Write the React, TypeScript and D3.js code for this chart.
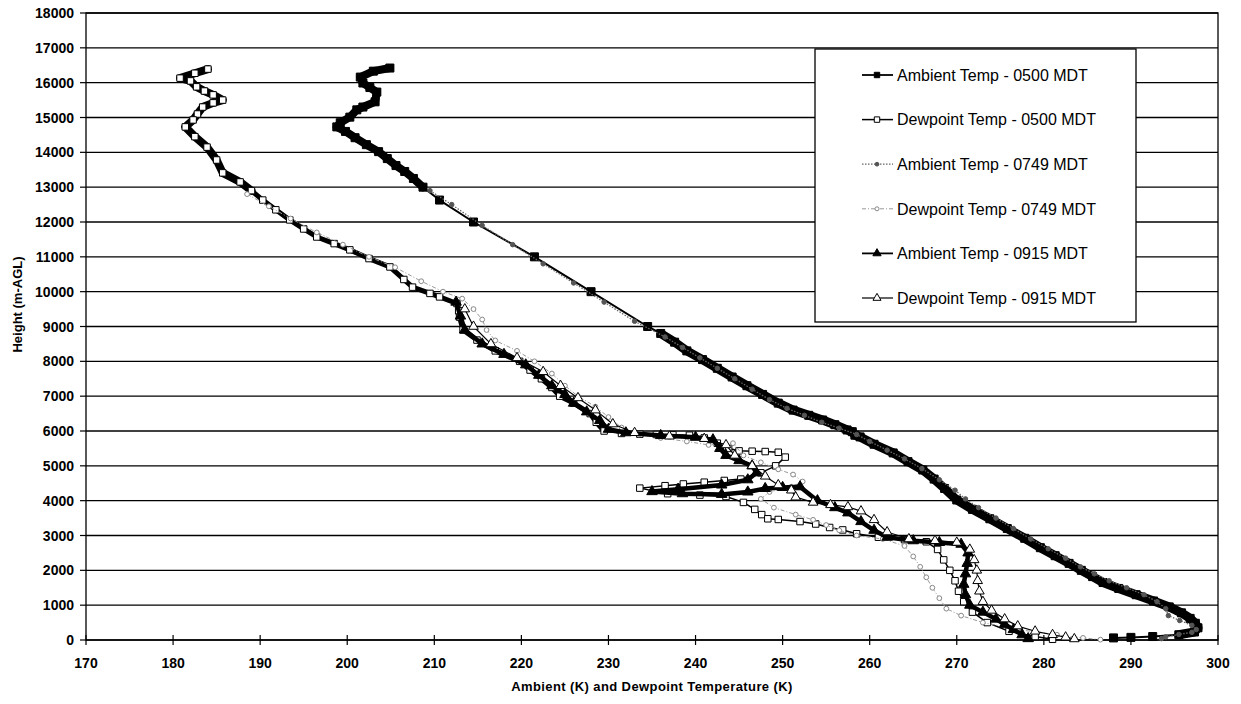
import React from 'react';
import * as d3 from 'd3';

type P = [number, number]; // [temperature K, height m-AGL]

const X_TICKS = [170, 180, 190, 200, 210, 220, 230, 240, 250, 260, 270, 280, 290, 300];
const Y_TICKS = [0, 1000, 2000, 3000, 4000, 5000, 6000, 7000, 8000, 9000, 10000, 11000, 12000, 13000, 14000, 15000, 16000, 17000, 18000];

const ambient0500: P[] = [
  [204.9, 16420], [203.0, 16330], [201.5, 16160], [201.8, 15990], [202.6, 15860], [203.4, 15730], [203.2, 15450],
  [201.8, 15300], [201.1, 15220], [200.3, 15010], [199.2, 14850], [198.8, 14730], [199.8, 14600], [200.9, 14420],
  [202.2, 14220], [203.6, 14020], [204.6, 13820], [205.6, 13620], [206.6, 13450], [207.6, 13250], [208.7, 13000],
  [210.6, 12630], [214.5, 12000], [221.5, 11000], [228.0, 10000], [234.5, 9000],
  [236.0, 8800], [237.6, 8550], [239.0, 8300], [240.8, 8050], [242.5, 7800], [244.2, 7550], [245.9, 7300],
  [247.7, 7050], [249.5, 6800], [251.2, 6600], [253.0, 6450], [254.6, 6316], [256.0, 6180], [257.4, 6030],
  [258.0, 5980], [258.3, 5880], [258.9, 5830], [260.5, 5620], [262.7, 5370], [264.4, 5120], [266.1, 4880],
  [267.4, 4620], [268.6, 4350], [270.0, 4020], [271.8, 3750], [273.8, 3480], [275.8, 3200], [277.8, 2920],
  [279.6, 2650], [281.3, 2420], [282.9, 2200], [284.3, 2000], [285.6, 1820], [286.8, 1650], [288.6, 1480],
  [290.6, 1300], [292.6, 1120], [294.4, 950], [295.8, 780], [296.8, 620], [297.4, 480], [297.7, 350],
  [297.3, 230], [295.5, 150], [292.5, 100], [290.0, 75], [288.0, 60],
];

const dewpoint0500: P[] = [
  [184.0, 16390], [182.5, 16270], [180.8, 16130], [182.0, 16050], [182.7, 15880], [183.6, 15760], [184.6, 15650],
  [185.7, 15500], [184.6, 15420], [183.4, 15300], [182.8, 15100], [182.3, 14930], [181.4, 14730], [182.5, 14450],
  [183.9, 14150], [185.0, 13780], [185.7, 13410], [187.7, 13150], [189.0, 12900], [190.3, 12630], [191.8, 12350],
  [193.4, 12060], [195.0, 11800], [196.5, 11570], [198.5, 11380], [200.3, 11200], [202.5, 10950], [204.9, 10710],
  [206.5, 10350], [207.5, 10130], [209.5, 9950], [210.6, 9850], [212.6, 9660], [212.8, 9450], [212.9, 9270],
  [213.3, 8900], [214.9, 8610], [217.0, 8300], [219.8, 8000], [221.0, 7750], [222.3, 7500], [223.5, 7250],
  [224.4, 7000], [226.0, 6800], [227.9, 6500], [228.6, 6250], [229.5, 6000], [231.5, 5930], [233.6, 5910],
  [235.5, 5900], [237.4, 5890], [239.3, 5880], [241.0, 5800], [242.5, 5650], [243.8, 5500], [245.0, 5430],
  [246.5, 5420], [248.0, 5410], [249.5, 5390], [250.3, 5250], [249.2, 5000], [247.5, 4800], [245.2, 4620],
  [243.3, 4580], [241.0, 4530], [238.6, 4480], [236.5, 4430], [233.6, 4360], [236.8, 4200], [240.5, 4160],
  [243.5, 4120], [245.5, 3950], [246.8, 3750], [247.6, 3600], [248.3, 3480], [249.5, 3460], [252.0, 3400],
  [253.8, 3330], [255.4, 3230], [256.9, 3160], [258.5, 3050], [261.0, 2950], [264.0, 2880], [266.5, 2820],
  [267.8, 2600], [268.5, 2300], [269.2, 2000], [269.8, 1700], [270.2, 1400], [270.8, 1100], [271.8, 800],
  [273.5, 500], [276.0, 250], [279.0, 100], [281.0, 20],
];

const ambient0749: P[] = [
  [209.5, 12900], [212.0, 12500], [215.5, 11900], [219.0, 11350], [222.5, 10800], [226.0, 10250], [229.5, 9700],
  [233.0, 9150], [236.5, 8700], [238.5, 8400], [240.5, 8100], [242.5, 7800], [244.5, 7500], [246.5, 7200],
  [248.5, 6900], [250.5, 6650], [252.5, 6450], [254.5, 6250], [256.5, 6080], [258.5, 5900], [260.0, 5700],
  [262.0, 5450], [264.0, 5200], [266.0, 4920], [268.0, 4600], [269.8, 4300], [271.0, 4050], [272.5, 3800],
  [274.5, 3500], [276.5, 3200], [278.5, 2900], [280.5, 2620], [282.5, 2350], [284.2, 2100], [285.8, 1900],
  [287.5, 1700], [289.5, 1500], [291.5, 1300], [293.0, 1100], [294.0, 900], [294.3, 700], [295.6, 560],
  [297.0, 420], [297.5, 300], [297.0, 220], [295.5, 160], [294.0, 90], [293.5, 40],
];

const dewpoint0749: P[] = [
  [188.5, 12800], [191.0, 12450], [193.5, 12100], [196.5, 11700], [199.5, 11350], [202.5, 11000], [205.5, 10700],
  [208.5, 10300], [211.0, 10000], [213.2, 9800], [214.5, 9500], [215.5, 9200], [216.0, 8900], [217.0, 8600],
  [219.5, 8300], [221.5, 8000], [223.5, 7650], [225.0, 7300], [226.5, 7000], [228.5, 6700], [230.0, 6400],
  [231.5, 6100], [233.5, 5900], [236.0, 5800], [239.0, 5700], [241.5, 5600], [244.3, 5650], [245.5, 5300],
  [247.5, 5100], [249.5, 4900], [251.2, 4750], [252.3, 4550], [251.0, 4400], [248.5, 4250], [247.5, 4050],
  [249.0, 3800], [251.5, 3600], [253.5, 3450], [255.0, 3300], [256.5, 3150], [258.5, 3000], [261.5, 2900],
  [264.0, 2700], [265.0, 2400], [265.8, 2100], [266.5, 1800], [267.2, 1500], [268.0, 1200], [268.8, 900],
  [270.5, 700], [273.0, 500], [277.0, 300], [281.5, 150], [284.5, 60], [286.5, 10],
];

const ambient0915: P[] = [
  [212.5, 9700], [213.0, 9300], [213.5, 8900], [215.5, 8500], [218.0, 8200], [220.5, 7900], [222.0, 7600],
  [223.5, 7300], [225.0, 7050], [226.0, 6800], [227.5, 6550], [229.0, 6300], [230.0, 6050], [232.0, 5950],
  [236.0, 5870], [240.0, 5820], [242.0, 5750], [242.8, 5500], [243.5, 5300], [245.0, 5150], [246.5, 5000],
  [247.0, 4800], [246.0, 4600], [243.0, 4450], [238.0, 4330], [235.0, 4260], [238.5, 4200], [243.0, 4180],
  [246.0, 4250], [248.0, 4350], [250.0, 4380], [252.0, 4400], [254.0, 4000], [256.0, 3800], [257.5, 3650],
  [259.0, 3400], [260.5, 3150], [262.0, 2950], [265.0, 2850], [268.0, 2800], [270.5, 2750], [271.3, 2500],
  [271.2, 2200], [271.0, 1900], [270.8, 1600], [271.0, 1300], [271.5, 1000], [273.0, 800], [274.5, 600],
  [275.5, 450], [276.5, 300], [277.5, 150], [278.2, 40],
];

const dewpoint0915: P[] = [
  [213.5, 9500], [214.5, 9000], [216.5, 8500], [219.5, 8100], [222.5, 7700], [224.5, 7300], [226.5, 6950],
  [228.5, 6600], [230.5, 6200], [233.0, 5950], [237.0, 5850], [241.0, 5780], [243.5, 5600], [244.5, 5300],
  [246.5, 5000], [248.0, 4700], [249.5, 4450], [251.0, 4300], [251.5, 4100], [253.5, 3950], [255.5, 3880],
  [257.5, 3820], [259.0, 3700], [260.5, 3450], [262.0, 3100], [264.5, 2900], [267.5, 2850], [270.0, 2800],
  [271.5, 2600], [272.0, 2300], [272.3, 2000], [272.4, 1700], [272.6, 1400], [273.0, 1100], [274.0, 850],
  [275.5, 600], [277.0, 400], [279.0, 250], [281.0, 150], [282.5, 80], [283.5, 30],
];

type Series = {
  name: string;
  data: P[];
  symbol: d3.SymbolType;
  size: number;
  fill: string;
  stroke: string;
  lineColor: string;
  lineWidth: number;
  dash: string | undefined;
  heavy?: { from: number; to: number; width: number }[]; // height bands where the dense sonde trace reads as a thick ribbon
};

const SERIES: Series[] = [
  { name: 'Ambient Temp - 0500 MDT', data: ambient0500, symbol: d3.symbolSquare, size: 64, fill: '#000', stroke: '#000', lineColor: '#000', lineWidth: 2, dash: undefined,
    heavy: [{ from: 140, to: 8850, width: 9 }, { from: 12950, to: 17000, width: 8 }] },
  { name: 'Dewpoint Temp - 0500 MDT', data: dewpoint0500, symbol: d3.symbolSquare, size: 42, fill: '#fff', stroke: '#000', lineColor: '#000', lineWidth: 1.5, dash: undefined,
    heavy: [{ from: 12900, to: 17000, width: 8 }, { from: 5950, to: 12900, width: 5 }] },
  { name: 'Ambient Temp - 0749 MDT', data: ambient0749, symbol: d3.symbolCircle, size: 16, fill: '#555', stroke: '#555', lineColor: '#666', lineWidth: 1.3, dash: '1.5,1.5' },
  { name: 'Dewpoint Temp - 0749 MDT', data: dewpoint0749, symbol: d3.symbolCircle, size: 18, fill: '#fff', stroke: '#888', lineColor: '#999', lineWidth: 1, dash: '4,2,1,2' },
  { name: 'Ambient Temp - 0915 MDT', data: ambient0915, symbol: d3.symbolTriangle, size: 48, fill: '#000', stroke: '#000', lineColor: '#000', lineWidth: 2.5, dash: undefined,
    heavy: [{ from: 140, to: 10000, width: 4.5 }] },
  { name: 'Dewpoint Temp - 0915 MDT', data: dewpoint0915, symbol: d3.symbolTriangle, size: 40, fill: '#fff', stroke: '#000', lineColor: '#000', lineWidth: 1.2, dash: undefined },
];

const FONT = '"Liberation Sans", Arial, sans-serif';

export default function App() {
  const W = 1241;
  const H = 704;
  const left = 86, right = 1218, top = 13, bottom = 640;
  const x = d3.scaleLinear().domain([170, 300]).range([left, right]);
  const y = d3.scaleLinear().domain([0, 18000]).range([bottom, top]);
  const line = d3.line<P>().x((d) => x(d[0])).y((d) => y(d[1]));

  const legend = { x: 815, y: 49, w: 321, h: 273 };
  const legendRowY = (i: number) => 75 + i * 44.6;

  return (
    <svg width={W} height={H} style={{ position: 'absolute', left: 0, top: 0, background: '#fff' }} fontFamily={FONT}>
      <rect x={0} y={0} width={W} height={H} fill="#fff" />
      {Y_TICKS.map((t) => (
        <line key={'g' + t} x1={left} x2={right} y1={y(t)} y2={y(t)} stroke="#000" strokeWidth={1.4} />
      ))}
      <rect x={left} y={top} width={right - left} height={bottom - top} fill="none" stroke="#000" strokeWidth={1.3} />
      {Y_TICKS.map((t) => (
        <g key={'yt' + t}>
          <line x1={left - 6} x2={left} y1={y(t)} y2={y(t)} stroke="#000" strokeWidth={1.2} />
          <text x={left - 12} y={y(t)} dy="0.36em" textAnchor="end" fontSize={14} fontWeight="bold">{t}</text>
        </g>
      ))}
      {X_TICKS.map((t) => (
        <g key={'xt' + t}>
          <line x1={x(t)} x2={x(t)} y1={bottom - 5} y2={bottom + 5} stroke="#000" strokeWidth={1.2} />
          <text x={x(t)} y={668} textAnchor="middle" fontSize={14} fontWeight="bold">{t}</text>
        </g>
      ))}
      <text x={(left + right) / 2} y={691} textAnchor="middle" fontSize={13} fontWeight="bold" letterSpacing={0.4}>Ambient (K) and Dewpoint Temperature (K)</text>
      <text transform={`translate(22,${(top + bottom) / 2 - 22}) rotate(-90)`} textAnchor="middle" fontSize={13} fontWeight="bold">Height (m-AGL)</text>

      {SERIES.map((s, i) => (
        <g key={'s' + i}>
          <path d={line(s.data) || ''} fill="none" stroke={s.lineColor} strokeWidth={s.lineWidth} strokeDasharray={s.dash} strokeLinejoin="round" />
          {(s.heavy || []).map((b, k) => (
            <path key={'h' + k}
              d={d3.line<P>().defined((d) => d[1] >= b.from && d[1] <= b.to).x((d) => x(d[0])).y((d) => y(d[1]))(s.data) || ''}
              fill="none" stroke={s.lineColor} strokeWidth={b.width} strokeLinejoin="round" strokeLinecap="round" />
          ))}
          {s.data.map((d, j) => (
            <path key={j} transform={`translate(${x(d[0])},${y(d[1])})`} d={d3.symbol().type(s.symbol).size(s.size)() || ''} fill={s.fill} stroke={s.stroke} strokeWidth={1} />
          ))}
        </g>
      ))}

      <rect x={legend.x} y={legend.y} width={legend.w} height={legend.h} fill="#fff" stroke="#000" strokeWidth={1.3} />
      {SERIES.map((s, i) => {
        const ly = legendRowY(i);
        return (
          <g key={'l' + i}>
            <line x1={862} x2={893} y1={ly} y2={ly} stroke={s.lineColor} strokeWidth={Math.min(s.lineWidth, 1.8)} strokeDasharray={s.dash} />
            <path transform={`translate(877,${ly})`} d={d3.symbol().type(s.symbol).size(Math.min(s.size, 42) * 0.7)() || ''} fill={s.fill} stroke={s.stroke} strokeWidth={1} />
            <text x={897} y={ly} dy="0.36em" fontSize={16}>{s.name}</text>
          </g>
        );
      })}
    </svg>
  );
}
